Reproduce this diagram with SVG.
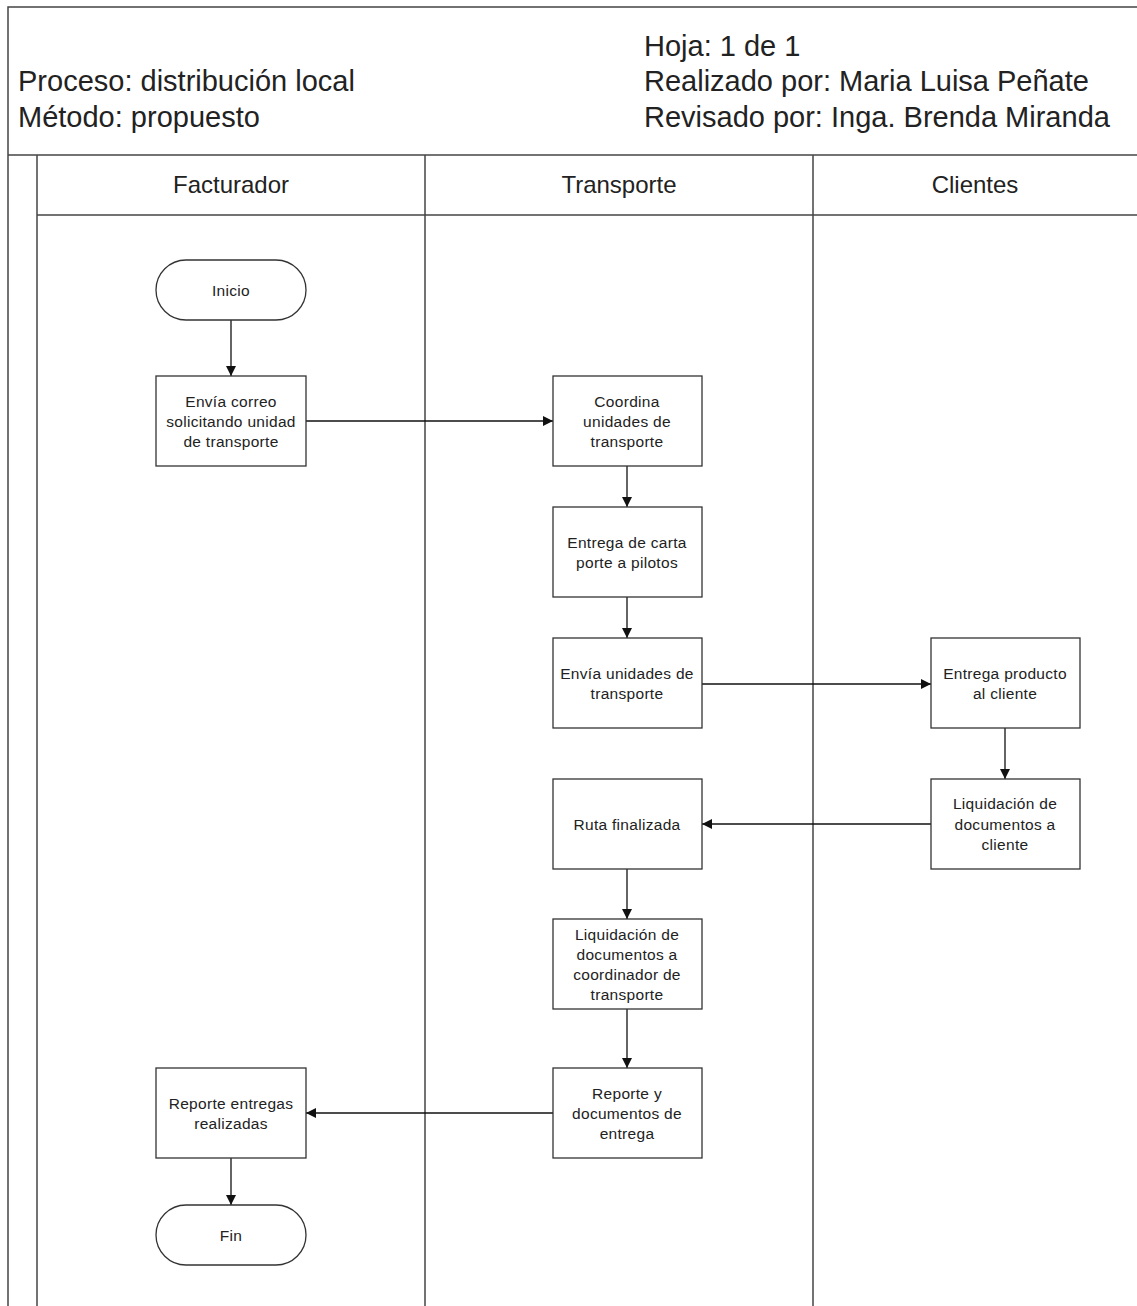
<svg xmlns="http://www.w3.org/2000/svg" width="1137" height="1306" viewBox="0 0 1137 1306">
<style>
.frame{fill:none;stroke:#444;stroke-width:1.5}
.node{fill:#fff;stroke:#333;stroke-width:1.3}
.t{font-family:"Liberation Sans",Arial,sans-serif;font-size:15.5px;letter-spacing:0.3px;fill:#222;text-anchor:middle}
.h{font-family:"Liberation Sans",Arial,sans-serif;font-size:29px;fill:#222}
.lane{font-family:"Liberation Sans",Arial,sans-serif;font-size:24px;fill:#222;text-anchor:middle}
.c{fill:none;stroke:#111;stroke-width:1.3}
</style>
<defs>
<marker id="ah" markerWidth="10" markerHeight="10" refX="10" refY="5" orient="auto" markerUnits="userSpaceOnUse">
<path d="M0,0 L10,5 L0,10 Z" fill="#111"/>
</marker>
</defs>
<rect width="1137" height="1306" fill="#fff"/>
<g id="frame">
<path class="frame" d="M1137,7 H8 V1306"/>
<path class="frame" d="M8,155 H1137"/>
<path class="frame" d="M37,155 V1306"/>
<path class="frame" d="M37,215 H1137"/>
<path class="frame" d="M425,155 V1306"/>
<path class="frame" d="M813,155 V1306"/>
</g>
<g id="header">
<text class="h" x="18" y="91">Proceso: distribución local</text>
<text class="h" x="18" y="127">Método: propuesto</text>
<text class="h" x="644" y="56">Hoja: 1 de 1</text>
<text class="h" x="644" y="91">Realizado por: Maria Luisa Peñate</text>
<text class="h" x="644" y="127">Revisado por: Inga. Brenda Miranda</text>
</g>
<g id="lanes">
<text class="lane" x="231" y="193">Facturador</text>
<text class="lane" x="619" y="193">Transporte</text>
<text class="lane" x="975" y="193">Clientes</text>
</g>
<g id="connectors">
<path class="c" d="M231,320 V376" marker-end="url(#ah)"/>
<path class="c" d="M306,421 H553" marker-end="url(#ah)"/>
<path class="c" d="M627,466 V507" marker-end="url(#ah)"/>
<path class="c" d="M627,597 V638" marker-end="url(#ah)"/>
<path class="c" d="M702,684 H931" marker-end="url(#ah)"/>
<path class="c" d="M1005,728 V779" marker-end="url(#ah)"/>
<path class="c" d="M931,824 H702" marker-end="url(#ah)"/>
<path class="c" d="M627,869 V919" marker-end="url(#ah)"/>
<path class="c" d="M627,1009 V1068" marker-end="url(#ah)"/>
<path class="c" d="M553,1113 H306" marker-end="url(#ah)"/>
<path class="c" d="M231,1158 V1205" marker-end="url(#ah)"/>
</g>
<g id="inicio">
<rect class="node" x="156" y="260" width="150" height="60" rx="30" ry="30"/>
<text class="t" x="231" y="296">Inicio</text>
</g>
<g id="envia-correo">
<rect class="node" x="156" y="376" width="150" height="90"/>
<text class="t" x="231" y="407">Envía correo</text>
<text class="t" x="231" y="427">solicitando unidad</text>
<text class="t" x="231" y="447">de transporte</text>
</g>
<g id="coordina">
<rect class="node" x="553" y="376" width="149" height="90"/>
<text class="t" x="627" y="407">Coordina</text>
<text class="t" x="627" y="427">unidades de</text>
<text class="t" x="627" y="447">transporte</text>
</g>
<g id="entrega-carta">
<rect class="node" x="553" y="507" width="149" height="90"/>
<text class="t" x="627" y="548">Entrega de carta</text>
<text class="t" x="627" y="568">porte a pilotos</text>
</g>
<g id="envia-unidades">
<rect class="node" x="553" y="638" width="149" height="90"/>
<text class="t" x="627" y="679">Envía unidades de</text>
<text class="t" x="627" y="699">transporte</text>
</g>
<g id="entrega-producto">
<rect class="node" x="931" y="638" width="149" height="90"/>
<text class="t" x="1005" y="679">Entrega producto</text>
<text class="t" x="1005" y="699">al cliente</text>
</g>
<g id="liquidacion-cliente">
<rect class="node" x="931" y="779" width="149" height="90"/>
<text class="t" x="1005" y="809">Liquidación de</text>
<text class="t" x="1005" y="830">documentos a</text>
<text class="t" x="1005" y="850">cliente</text>
</g>
<g id="ruta-finalizada">
<rect class="node" x="553" y="779" width="149" height="90"/>
<text class="t" x="627" y="830">Ruta finalizada</text>
</g>
<g id="liquidacion-coordinador">
<rect class="node" x="553" y="919" width="149" height="90"/>
<text class="t" x="627" y="940">Liquidación de</text>
<text class="t" x="627" y="960">documentos a</text>
<text class="t" x="627" y="980">coordinador de</text>
<text class="t" x="627" y="1000">transporte</text>
</g>
<g id="reporte-documentos">
<rect class="node" x="553" y="1068" width="149" height="90"/>
<text class="t" x="627" y="1099">Reporte y</text>
<text class="t" x="627" y="1119">documentos de</text>
<text class="t" x="627" y="1139">entrega</text>
</g>
<g id="reporte-entregas">
<rect class="node" x="156" y="1068" width="150" height="90"/>
<text class="t" x="231" y="1109">Reporte entregas</text>
<text class="t" x="231" y="1129">realizadas</text>
</g>
<g id="fin">
<rect class="node" x="156" y="1205" width="150" height="60" rx="30" ry="30"/>
<text class="t" x="231" y="1241">Fin</text>
</g>
</svg>
